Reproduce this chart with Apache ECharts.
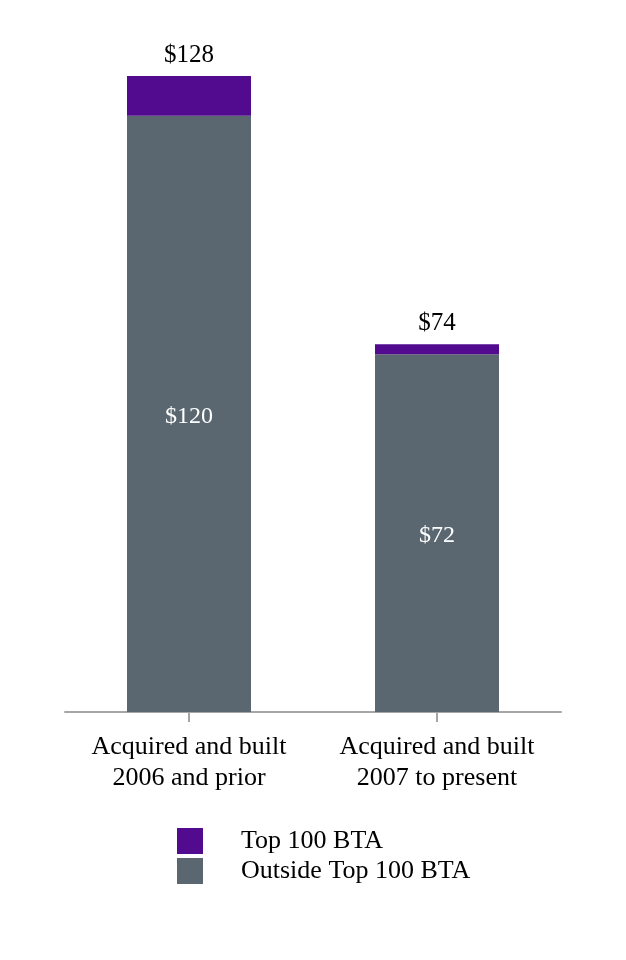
<!DOCTYPE html>
<html><head><meta charset="utf-8">
<script src="https://cdn.jsdelivr.net/npm/echarts@6/dist/echarts.min.js"></script>
<style>html,body{margin:0;padding:0;background:#fff}#c{width:626px;height:960px}</style>
</head><body><div id="c"></div>
<script>
const categories = ['Acquired and built\n2006 and prior', 'Acquired and built\n2007 to present'];
const outsideTop100 = [120, 72];
const top100 = [8, 2];
const totals = [128, 74];
const seriesNames = ['Top 100 BTA', 'Outside Top 100 BTA'];

const FONT = '"Liberation Serif", "Times New Roman", serif';
const chart = echarts.init(document.getElementById('c'));
chart.setOption({
  animation: false,
  grid: {left: 65, right: 65, top: 76, bottom: 248},
  legend: {
    data: seriesNames, orient: 'vertical', left: 177, top: 828, padding: 0,
    itemWidth: 26, itemHeight: 26, itemGap: 4, icon: 'rect',
    textStyle: {fontFamily: FONT, fontSize: 26, color: '#000', padding: [6, 0, 0, 33]}
  },
  xAxis: {
    type: 'category', data: categories,
    axisLine: {lineStyle: {color: '#a6a6a6', width: 2}},
    axisTick: {show: true, alignWithLabel: true, length: 10, lineStyle: {color: '#a6a6a6', width: 2}},
    axisLabel: {interval: 0, fontFamily: FONT, fontSize: 26, color: '#000', lineHeight: 31, margin: 20}
  },
  yAxis: {type: 'value', min: 0, max: 128, show: false, splitLine: {show: false}},
  series: [
    {
      name: seriesNames[1], type: 'bar', stack: 's', data: outsideTop100, barWidth: 124,
      itemStyle: {color: '#5b6770'},
      label: {show: true, position: 'inside', offset: [0, 3], fontFamily: FONT, fontSize: 24, color: '#fff', formatter: p => '$' + p.value}
    },
    {
      name: seriesNames[0], type: 'bar', stack: 's', data: top100, barWidth: 124,
      itemStyle: {color: '#520b8f'},
      label: {show: true, position: 'top', distance: 8, fontFamily: FONT, fontSize: 25, color: '#000', formatter: p => '$' + totals[p.dataIndex]}
    }
  ]
});
</script></body></html>
